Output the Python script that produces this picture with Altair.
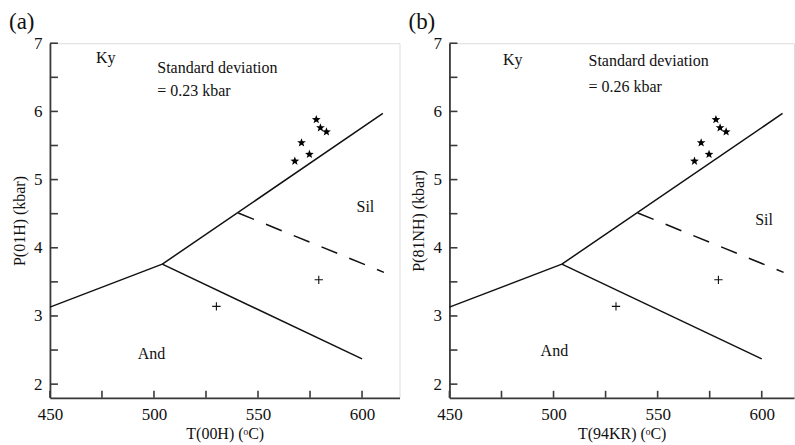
import math
import altair as alt
import pandas as pd

# ---------------- data ----------------
seg_names = ["Ky-And", "Ky-And", "Ky-Sil", "Ky-Sil", "And-Sil", "And-Sil"]
seg_T = [450, 504, 504, 610, 504, 600]
seg_P = [3.13, 3.76, 3.76, 5.97, 3.76, 2.37]

dash_T = [540.5, 610.5]
dash_P = [4.51, 3.64]

star_T = [567.7, 570.9, 574.7, 578.0, 580.0, 582.9]
star_P = [5.27, 5.54, 5.37, 5.88, 5.76, 5.70]

plus_T = [530.0, 579.2]
plus_P = [3.14, 3.53]

x_tick_values = [450, 475, 500, 525, 550, 575, 600]
x_label_values = [450, 500, 550, 600]
y_tick_values = [2, 2.5, 3, 3.5, 4, 4.5, 5, 5.5, 6, 6.5, 7]
y_label_values = [2, 3, 4, 5, 6, 7]

panel_labels = ["(a)", "(b)"]
x_titles = ["T(00H) (\u1d52C)", "T(94KR) (\u1d52C)"]
y_titles = ["P(01H) (kbar)", "P(81NH) (kbar)"]
sd_texts = ["= 0.23 kbar", "= 0.26 kbar"]

# annotation anchors (T, P) per panel
ky_pos = [(476.8, 6.78), (480.4, 6.75)]
sd_pos = [(501.6, 6.63, 6.30), (516.8, 6.74, 6.36)]
sil_pos = [(601.6, 4.60), (601.1, 4.40)]
and_pos = [(498.8, 2.44), (500.4, 2.48)]

x_max = [618, 615.5]
widths = [350, 345]

FONT = "Liberation Serif"
INK = "#111111"
AXC = "#3a3a3a"

# star symbol path
pts = []
for k in range(10):
    r = 1.0 if k % 2 == 0 else 0.42
    a = math.radians(-90 + 36 * k)
    pts.append(f"{r*math.cos(a):.3f},{r*math.sin(a):.3f}")
STAR = "M" + "L".join(pts) + "Z"
PLUS = "M-1,0L1,0M0,-1L0,1"


def panel(i):
    xs = alt.Scale(domain=[450, x_max[i]], nice=False, zero=False)
    ys = alt.Scale(domain=[1.8, 7], nice=False, zero=False)
    xaxis = alt.Axis(values=x_label_values, ticks=False, tickSize=0, grid=False,
                     title=x_titles[i], labelPadding=9, titlePadding=3, labelFlush=False,
                     domainColor=AXC, domainWidth=1.8, labelColor=INK, titleColor=INK,
                     labelFont=FONT, titleFont=FONT,
                     labelFontSize=17, titleFontSize=16, titleFontWeight="normal")
    yaxis = alt.Axis(values=y_label_values, ticks=False, tickSize=0, grid=False,
                     title=y_titles[i], labelPadding=8, titlePadding=6, labelFlush=False,
                     domainColor=AXC, domainWidth=1.8, labelColor=INK, titleColor=INK,
                     labelFont=FONT, titleFont=FONT,
                     labelFontSize=17, titleFontSize=16, titleFontWeight="normal")

    def X(f):
        return alt.X(f, type="quantitative", scale=xs, axis=xaxis)

    def Y(f):
        return alt.Y(f, type="quantitative", scale=ys, axis=yaxis)

    seg_df = pd.DataFrame({"seg": seg_names, "T": seg_T, "P": seg_P})
    dash_df = pd.DataFrame({"T": dash_T, "P": dash_P})
    star_df = pd.DataFrame({"T": star_T, "P": star_P})
    plus_df = pd.DataFrame({"T": plus_T, "P": plus_P})
    xt_df = pd.DataFrame({"T": x_tick_values})
    yt_df = pd.DataFrame({"P": y_tick_values})

    lines = alt.Chart(seg_df).mark_line(color=INK, strokeWidth=1.5).encode(
        x=X("T"), y=Y("P"), detail="seg:N")
    dashed = alt.Chart(dash_df).mark_line(color=INK, strokeWidth=1.5, strokeDash=[17, 13]).encode(
        x=X("T"), y=Y("P"))
    stars = alt.Chart(star_df).mark_point(shape=STAR, filled=True, color="black", size=85, opacity=1).encode(
        x=X("T"), y=Y("P"))
    plus = alt.Chart(plus_df).mark_point(shape=PLUS, filled=False, color=INK, size=70, strokeWidth=1.1, opacity=1).encode(
        x=X("T"), y=Y("P"))
    xticks = alt.Chart(xt_df).mark_rule(color=AXC, strokeWidth=1.6).encode(
        x=X("T"), y=alt.value(355), y2=alt.value(348))
    yticks = alt.Chart(yt_df).mark_rule(color=AXC, strokeWidth=1.6).encode(
        y=Y("P"), x=alt.value(0), x2=alt.value(8))

    center_df = pd.DataFrame({
        "T": [ky_pos[i][0], sil_pos[i][0], and_pos[i][0]],
        "P": [ky_pos[i][1], sil_pos[i][1], and_pos[i][1]],
        "label": ["Ky", "Sil", "And"],
    })
    left_df = pd.DataFrame({
        "T": [sd_pos[i][0], sd_pos[i][0]],
        "P": [sd_pos[i][1], sd_pos[i][2]],
        "label": ["Standard deviation", sd_texts[i]],
    })
    ctext = alt.Chart(center_df).mark_text(font=FONT, fontSize=16, color=INK, align="center", baseline="middle").encode(
        x=X("T"), y=Y("P"), text="label:N")
    ltext = alt.Chart(left_df).mark_text(font=FONT, fontSize=16, color=INK, align="left", baseline="middle").encode(
        x=X("T"), y=Y("P"), text="label:N")
    plab = alt.Chart(pd.DataFrame({"label": [panel_labels[i]]})).mark_text(
        font=FONT, fontSize=23, color=INK, align="left", baseline="middle").encode(
        x=alt.value(-41), y=alt.value(-21), text="label:N")

    return alt.layer(lines, dashed, xticks, yticks, stars, plus, ctext, ltext, plab).properties(
        width=widths[i], height=355)


chart = alt.hconcat(panel(0), panel(1), spacing=7).properties(
    padding={"left": 8, "top": 10, "right": 0, "bottom": 0}
).configure_view(stroke=None).configure(font=FONT, background="white")

chart.save("out.html", embed_options={"renderer": "svg", "actions": False})
